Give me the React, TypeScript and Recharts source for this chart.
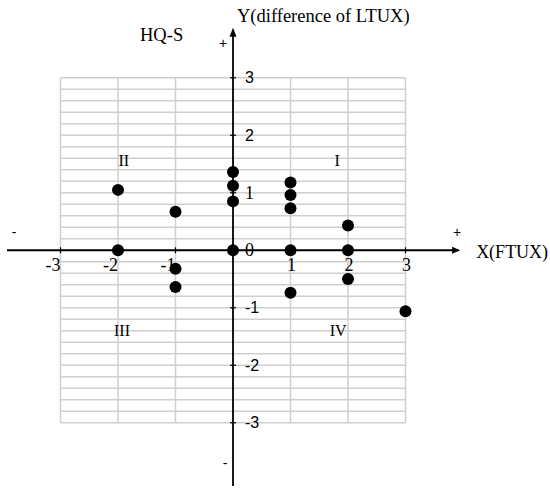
import { ScatterChart, Scatter, XAxis, YAxis, ReferenceLine, ReferenceDot } from 'recharts';

// FTUX score (x) and difference of LTUX (y) for the HQ-S group
const ftux = [-2, -2, -1, -1, -1, 0, 0, 0, 0, 1, 1, 1, 1, 1, 2, 2, 2, 3];
const ltuxDiff = [1.05, 0, 0.67, -0.32, -0.64, 1.36, 1.12, 0.85, 0, 1.18, 0.96, 0.73, 0, -0.74, 0.43, 0, -0.5, -1.06];

const xTicks = [-3, -2, -1, 1, 2, 3];
const yTicks = [3, 2, 1, 0, -1, -2, -3];
const gridCols = [-3, -2, -1, 1, 2, 3];
const gridRows = Array.from({ length: 31 }, (_, i) => Math.round((-3 + i * 0.2) * 10) / 10);

const quadrants = [
  { label: 'I', x: 1.81, y: 1.56 },
  { label: 'II', x: -1.9, y: 1.56 },
  { label: 'III', x: -1.93, y: -1.4 },
  { label: 'IV', x: 1.83, y: -1.4 },
];

const data = ftux.map((x, i) => ({ x, y: ltuxDiff[i] }));

const SERIF = '"Liberation Serif", "DejaVu Serif", serif';
const SANS = '"Liberation Sans", Arial, sans-serif';
const GRID = '#cfcfcf';

export default function App() {
  return (
    <div style={{ position: 'absolute', left: 0, top: 0, width: 550, height: 488, background: '#fff' }}>
      <ScatterChart width={550} height={488} margin={{ top: 26, right: 87, bottom: 2, left: 3 }}>
        <XAxis type="number" dataKey="x" domain={[-4, 4]} hide allowDataOverflow />
        <YAxis type="number" dataKey="y" domain={[-4.1, 3.9]} hide allowDataOverflow />

        {gridRows.map((v) => (
          <ReferenceLine key={'r' + v} segment={[{ x: -3, y: v }, { x: 3, y: v }]} stroke={GRID} strokeWidth={1.5} />
        ))}
        {gridCols.map((v) => (
          <ReferenceLine key={'c' + v} segment={[{ x: v, y: -3 }, { x: v, y: 3 }]} stroke={GRID} strokeWidth={1.5} />
        ))}

        {/* axes */}
        <ReferenceLine segment={[{ x: -3.93, y: 0 }, { x: 3.92, y: 0 }]} stroke="#000" strokeWidth={1.8} />
        <ReferenceLine segment={[{ x: 0, y: -4.1 }, { x: 0, y: 3.82 }]} stroke="#000" strokeWidth={1.8} />

        <ReferenceDot
          x={3.95}
          y={0}
          r={0}
          ifOverflow="visible"
          shape={(p: any) => (
            <g>
              <polygon points={`${p.cx},${p.cy} ${p.cx - 8},${p.cy - 3.5} ${p.cx - 8},${p.cy + 3.5}`} fill="#000" />
              <text x={p.cx - 3} y={p.cy - 13} textAnchor="middle" fontFamily={SANS} fontSize={14}>+</text>
              <text x={p.cx + 16} y={p.cy + 8} fontFamily={SERIF} fontSize={18}>X(FTUX)</text>
            </g>
          )}
        />
        <ReferenceDot
          x={-3.93}
          y={0}
          r={0}
          ifOverflow="visible"
          shape={(p: any) => (
            <text x={p.cx + 7} y={p.cy - 13} textAnchor="middle" fontFamily={SANS} fontSize={14}>-</text>
          )}
        />
        <ReferenceDot
          x={0}
          y={3.87}
          r={0}
          ifOverflow="visible"
          shape={(p: any) => (
            <g>
              <polygon points={`${p.cx},${p.cy} ${p.cx - 3.5},${p.cy + 9} ${p.cx + 3.5},${p.cy + 9}`} fill="#000" />
              <text x={p.cx - 10} y={p.cy + 20} textAnchor="middle" fontFamily={SANS} fontSize={14}>+</text>
              <text x={p.cx + 4} y={p.cy - 6} fontFamily={SERIF} fontSize={18.5}>Y(difference of LTUX)</text>
              <text x={p.cx - 93} y={p.cy + 13} fontFamily={SERIF} fontSize={18.5}>HQ-S</text>
            </g>
          )}
        />
        <ReferenceDot
          x={0}
          y={-3.7}
          r={0}
          ifOverflow="visible"
          shape={(p: any) => (
            <text x={p.cx - 8} y={p.cy + 5} textAnchor="middle" fontFamily={SANS} fontSize={14}>-</text>
          )}
        />

        {xTicks.map((t) => (
          <ReferenceDot
            key={'xt' + t}
            x={t}
            y={0}
            r={0}
            ifOverflow="visible"
            shape={(p: any) => (
              <g>
                <line x1={p.cx} x2={p.cx} y1={p.cy - 3} y2={p.cy + 3} stroke="#000" strokeWidth={1.2} />
                <text
                  x={t < 0 ? p.cx : p.cx + 1}
                  y={p.cy + 21}
                  textAnchor={t < 0 ? 'end' : 'middle'}
                  fontFamily={SERIF}
                  fontSize={18}
                >
                  {t}
                </text>
              </g>
            )}
          />
        ))}
        {yTicks.map((t) => (
          <ReferenceDot
            key={'yt' + t}
            x={0}
            y={t}
            r={0}
            ifOverflow="visible"
            shape={(p: any) => (
              <g>
                <line x1={p.cx - 3} x2={p.cx + 3} y1={p.cy} y2={p.cy} stroke="#000" strokeWidth={1.2} />
                <text
                  x={p.cx + 12}
                  y={p.cy}
                  dominantBaseline="central"
                  fontFamily={t === 1 || t === 0 ? SERIF : SANS}
                  fontSize={t === 1 || t === 0 ? 18 : 16}
                >
                  {t}
                </text>
              </g>
            )}
          />
        ))}

        {quadrants.map((q) => (
          <ReferenceDot
            key={q.label}
            x={q.x}
            y={q.y}
            r={0}
            ifOverflow="visible"
            shape={(p: any) => (
              <text x={p.cx} y={p.cy} textAnchor="middle" dominantBaseline="central" fontFamily={SERIF} fontSize={16}>
                {q.label}
              </text>
            )}
          />
        ))}

        <Scatter
          data={data}
          isAnimationActive={false}
          shape={(p: any) => <circle cx={p.cx} cy={p.cy} r={6} fill="#000" />}
        />
      </ScatterChart>
    </div>
  );
}
